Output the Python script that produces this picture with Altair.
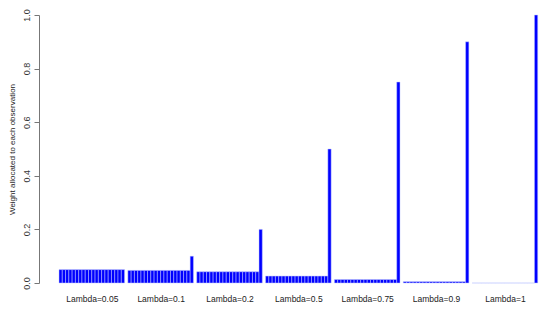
import altair as alt
import pandas as pd

# values
groups = ["Lambda=0.05", "Lambda=0.1", "Lambda=0.2", "Lambda=0.5",
          "Lambda=0.75", "Lambda=0.9", "Lambda=1"]
older_weight = [0.05, 0.047, 0.042, 0.026, 0.013, 0.005, 0.0]   # 19 earlier observations
latest_weight = [0.05, 0.1, 0.2, 0.5, 0.75, 0.9, 1.0]           # most recent observation
n_obs = 20

rows = []
for g, name in enumerate(groups):
    for i in range(n_obs):
        pos = g * (n_obs + 1) + i
        w = latest_weight[g] if i == n_obs - 1 else older_weight[g]
        rows.append({"group": name, "obs": i + 1, "p0": pos, "p1": pos + 1, "weight": w})
df = pd.DataFrame(rows)

centers = [g * (n_obs + 1) + n_obs / 2 for g in range(len(groups))]
label_arr = "[" + ",".join("'" + s + "'" for s in groups) + "]"

font = "Liberation Sans"

chart = alt.Chart(df).mark_bar(
    color="#0000ff", stroke="#c0c8ff", strokeWidth=0.5
).encode(
    x=alt.X("p0:Q",
            scale=alt.Scale(domain=[-6.1, 147], nice=False, zero=False),
            axis=alt.Axis(values=centers, title=None, domain=False, ticks=False,
                          grid=False, labelFontSize=8.5, labelColor="#222",
                          labelFont=font, labelPadding=11,
                          labelExpr=label_arr + "[round((datum.value - 10) / 21)]")),
    x2="p1:Q",
    y=alt.Y("weight:Q",
            scale=alt.Scale(domain=[0, 1], nice=False, padding=0),
            axis=alt.Axis(values=[0, 0.2, 0.4, 0.6, 0.8, 1.0], format=".1f",
                          title="Weight allocated to each observation",
                          titleFont=font, titleFontSize=8, titleFontWeight="normal",
                          titleColor="#222", titleX=-27, titleY=134,
                          titleBaseline="middle", titleAngle=-90,
                          labelAngle=-90, labelAlign="center", labelBaseline="bottom",
                          labelFont=font, labelFontSize=9, labelColor="#333",
                          labelPadding=3, tickSize=5, tickColor="#777",
                          domainColor="#777", grid=False)),
    y2=alt.datum(0),
).properties(
    width=502, height=268,
    autosize=alt.AutoSizeParams(type="none"),
    padding={"left": 31, "top": 7, "right": 1, "bottom": 21},
).configure_view(stroke=None)

chart.save("out.html", embed_options={"renderer": "svg", "actions": False})
